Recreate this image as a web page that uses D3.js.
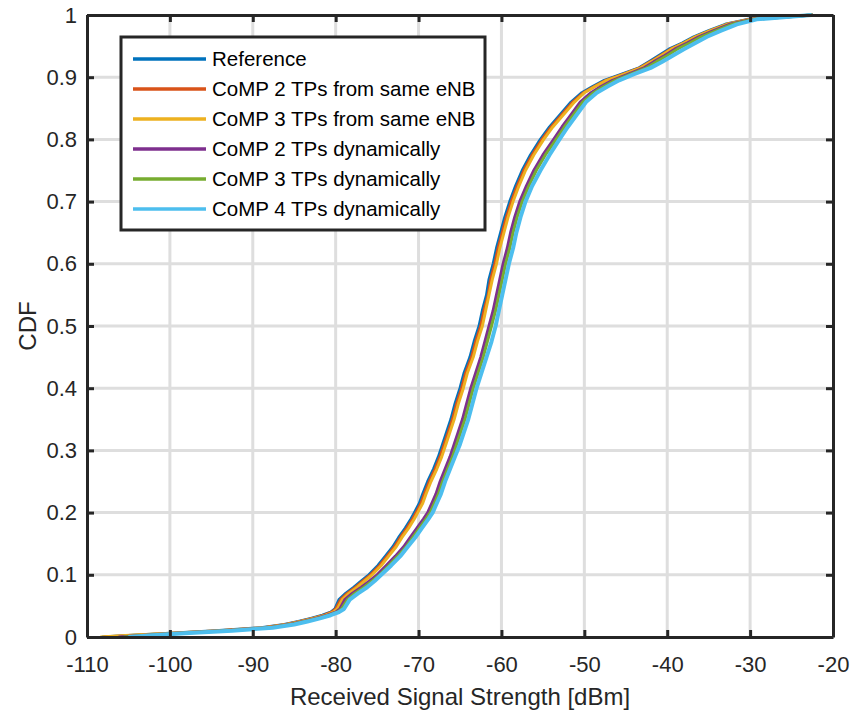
<!DOCTYPE html>
<html>
<head>
<meta charset="utf-8">
<script src="https://cdn.jsdelivr.net/npm/d3@7"></script>
<style>
  body { margin: 0; background: #fff; }
  svg { display: block; font-family: Arial, "Liberation Sans", sans-serif; }
  .axis .domain { stroke: #262626; stroke-width: 3; }
  .axis line { stroke: #262626; stroke-width: 3; }
  .axis text { fill: #262626; font-size: 22px; }
  .grid { stroke: #dedede; stroke-width: 3; }
  .curve { fill: none; stroke-linejoin: round; }
</style>
</head>
<body>
<svg id="chart" width="851" height="714"></svg>
<script>
// axis ticks
var xTicks = [-110, -100, -90, -80, -70, -60, -50, -40, -30, -20];
var yTicks = [0, 0.1, 0.2, 0.3, 0.4, 0.5, 0.6, 0.7, 0.8, 0.9, 1];
var yTickLabels = ['0', '0.1', '0.2', '0.3', '0.4', '0.5', '0.6', '0.7', '0.8', '0.9', '1'];

// CDF levels shared by every series
var levels = [0, 0.003, 0.006, 0.01, 0.015, 0.02, 0.025, 0.03, 0.035, 0.04, 0.045,
  0.06, 0.07, 0.08, 0.09, 0.1, 0.115, 0.13, 0.145, 0.16, 0.175, 0.19, 0.2,
  0.215, 0.23, 0.25, 0.27, 0.29, 0.31, 0.33, 0.35, 0.375, 0.4, 0.425, 0.45,
  0.475, 0.5, 0.525, 0.55, 0.575, 0.6, 0.625, 0.65, 0.675, 0.7, 0.725, 0.75,
  0.775, 0.8, 0.82, 0.84, 0.86, 0.875, 0.885, 0.895, 0.905, 0.915, 0.925,
  0.935, 0.945, 0.955, 0.965, 0.975, 0.985, 0.993, 1];

// received signal strength [dBm] at each level
var reference = [-108.2, -104.5, -100.0, -94.5, -89.0, -86.2, -84.5, -83.0, -81.6, -80.6, -80.1,
  -79.6, -78.8, -77.8, -76.9, -76.0, -74.9, -74.0, -73.1, -72.4, -71.6, -70.9, -70.5,
  -69.9, -69.5, -68.9, -68.2, -67.6, -67.1, -66.6, -66.1, -65.6, -65.0, -64.5, -63.8,
  -63.3, -62.7, -62.3, -61.8, -61.5, -61.0, -60.6, -60.1, -59.6, -59.0, -58.3, -57.5,
  -56.5, -55.3, -54.2, -52.9, -51.6, -50.3, -49.0, -47.6, -45.5, -43.4, -42.2,
  -41.0, -39.8, -38.2, -36.8, -35.0, -33.0, -30.3, -22.5];
var comp2Same = [-108.0, -104.0, -99.6, -94.0, -88.7, -86.0, -84.3, -82.8, -81.4, -80.5, -80.0,
  -79.4, -78.6, -77.6, -76.7, -75.8, -74.7, -73.8, -72.9, -72.2, -71.4, -70.7, -70.3,
  -69.7, -69.3, -68.7, -68.0, -67.4, -66.9, -66.4, -65.9, -65.4, -64.8, -64.3, -63.6,
  -63.1, -62.5, -62.1, -61.6, -61.3, -60.8, -60.4, -59.9, -59.4, -58.8, -58.1, -57.3,
  -56.3, -55.1, -54.0, -52.7, -51.4, -50.1, -48.8, -47.4, -45.3, -43.3, -42.0,
  -40.8, -39.6, -38.0, -36.6, -34.8, -32.8, -30.1, -22.6];
var comp3Same = [-108.4, -104.8, -99.8, -94.0, -88.6, -85.9, -84.2, -82.7, -81.2, -80.3, -79.8,
  -79.2, -78.4, -77.4, -76.5, -75.6, -74.5, -73.6, -72.7, -72.0, -71.2, -70.5, -70.1,
  -69.5, -69.1, -68.5, -67.8, -67.2, -66.7, -66.2, -65.7, -65.2, -64.6, -64.1, -63.4,
  -62.9, -62.3, -61.9, -61.5, -61.1, -60.6, -60.2, -59.7, -59.2, -58.6, -57.9, -57.1,
  -56.1, -54.9, -53.8, -52.5, -51.2, -50.0, -48.7, -47.3, -45.2, -43.2, -41.9,
  -40.7, -39.5, -38.0, -36.6, -34.8, -32.8, -30.1, -22.7];
var comp2Dyn = [-106.2, -103.0, -99.0, -93.5, -88.2, -85.6, -83.9, -82.4, -81.0, -80.0, -79.5,
  -78.9, -78.0, -76.9, -75.9, -75.0, -73.9, -72.8, -71.8, -71.0, -70.2, -69.4, -68.9,
  -68.4, -67.9, -67.4, -66.8, -66.2, -65.7, -65.2, -64.7, -64.2, -63.7, -63.1, -62.5,
  -62.0, -61.5, -61.0, -60.6, -60.2, -59.8, -59.3, -58.9, -58.4, -57.8, -57.0, -56.1,
  -55.0, -53.7, -52.7, -51.6, -50.5, -49.2, -48.0, -46.6, -44.7, -42.8, -41.6,
  -40.3, -39.1, -37.6, -36.2, -34.4, -32.5, -29.8, -22.4];
var comp3Dyn = [-105.6, -102.6, -98.7, -93.2, -88.0, -85.4, -83.7, -82.2, -80.8, -79.8, -79.3,
  -78.6, -77.7, -76.6, -75.6, -74.7, -73.6, -72.5, -71.5, -70.7, -69.9, -69.1, -68.6,
  -68.1, -67.6, -67.1, -66.5, -65.9, -65.4, -64.9, -64.4, -63.9, -63.4, -62.8, -62.2,
  -61.7, -61.2, -60.7, -60.3, -59.9, -59.5, -59.0, -58.6, -58.1, -57.5, -56.7, -55.8,
  -54.7, -53.4, -52.4, -51.3, -50.2, -48.9, -47.7, -46.3, -44.4, -42.5, -41.3,
  -40.0, -38.8, -37.3, -35.9, -34.1, -32.2, -29.6, -22.4];
var comp4Dyn = [-105.0, -102.0, -98.2, -92.5, -87.6, -85.0, -83.4, -81.9, -80.6, -79.6, -79.0,
  -78.3, -77.3, -76.2, -75.3, -74.5, -73.3, -72.2, -71.3, -70.4, -69.6, -68.8, -68.3,
  -67.8, -67.3, -66.8, -66.2, -65.6, -65.0, -64.5, -64.0, -63.5, -63.0, -62.4, -61.8,
  -61.2, -60.7, -60.3, -59.9, -59.5, -59.1, -58.6, -58.2, -57.7, -57.1, -56.3, -55.3,
  -54.2, -53.0, -52.0, -50.9, -49.8, -48.5, -47.2, -45.8, -44.0, -42.0, -40.6,
  -39.3, -38.0, -36.6, -35.2, -33.5, -31.6, -29.2, -22.6];

var seriesNames = ['Reference', 'CoMP 2 TPs from same eNB', 'CoMP 3 TPs from same eNB',
  'CoMP 2 TPs dynamically', 'CoMP 3 TPs dynamically', 'CoMP 4 TPs dynamically'];
var seriesValues = [reference, comp2Same, comp3Same, comp2Dyn, comp3Dyn, comp4Dyn];
var seriesColors = ['#0072BD', '#D95319', '#EDB120', '#7E2F8E', '#77AC30', '#4DBEEE'];

var plotLeft = 87, plotRight = 833, plotTop = 15, plotBottom = 637;

var svg = d3.select('#chart');
var x = d3.scaleLinear().domain([-110, -20]).range([plotLeft, plotRight]);
var y = d3.scaleLinear().domain([0, 1]).range([plotBottom, plotTop]);

// grid
svg.append('g').selectAll('line')
    .data(xTicks.slice(1, -1))
  .enter().append('line')
    .attr('class', 'grid')
    .attr('x1', x).attr('x2', x)
    .attr('y1', plotTop).attr('y2', plotBottom);
svg.append('g').selectAll('line')
    .data(yTicks.slice(1, -1))
  .enter().append('line')
    .attr('class', 'grid')
    .attr('x1', plotLeft).attr('x2', plotRight)
    .attr('y1', y).attr('y2', y);

// curves
var line = d3.line()
    .x(function(d) { return x(d[0]); })
    .y(function(d) { return y(d[1]); });

svg.append('g').selectAll('path')
    .data(seriesValues)
  .enter().append('path')
    .attr('class', 'curve')
    .attr('stroke', function(d, i) { return seriesColors[i]; })
    .attr('stroke-width', function(d, i) { return i == 5 ? 4 : 3; })
    .attr('d', function(vals) {
        return line(vals.map(function(v, i) { return [v, levels[i]]; }));
    });

// axes (box with inward ticks)
svg.append('g').attr('class', 'axis')
    .attr('transform', 'translate(0,' + plotBottom + ')')
    .call(d3.axisBottom(x).tickValues(xTicks).tickSizeInner(-7).tickSizeOuter(0).tickPadding(19)
        .tickFormat(function(d) { return String(d); }));
svg.append('g').attr('class', 'axis')
    .attr('transform', 'translate(0,' + plotTop + ')')
    .call(d3.axisTop(x).tickValues(xTicks).tickSizeInner(-7).tickSizeOuter(0).tickFormat(''));
svg.append('g').attr('class', 'axis')
    .attr('transform', 'translate(' + plotLeft + ',0)')
    .call(d3.axisLeft(y).tickValues(yTicks).tickSizeInner(-7).tickSizeOuter(0).tickPadding(10)
        .tickFormat(function(d, i) { return yTickLabels[i]; }));
svg.append('g').attr('class', 'axis')
    .attr('transform', 'translate(' + plotRight + ',0)')
    .call(d3.axisRight(y).tickValues(yTicks).tickSizeInner(-7).tickSizeOuter(0).tickFormat(''));

svg.selectAll('.axis').attr('font-family', null);

// axis titles
svg.append('text')
    .attr('x', (plotLeft + plotRight) / 2)
    .attr('y', 705)
    .attr('text-anchor', 'middle')
    .attr('fill', '#262626')
    .style('font-size', '24px')
    .text('Received Signal Strength [dBm]');
svg.append('text')
    .attr('transform', 'translate(36,' + (plotTop + plotBottom) / 2 + ') rotate(-90)')
    .attr('text-anchor', 'middle')
    .attr('fill', '#262626')
    .style('font-size', '24px')
    .text('CDF');

// legend
var legend = svg.append('g');
legend.append('rect')
    .attr('x', 121).attr('y', 37)
    .attr('width', 364).attr('height', 193)
    .attr('fill', '#fff')
    .attr('stroke', '#262626')
    .attr('stroke-width', 3);
var rows = legend.selectAll('g')
    .data(seriesNames)
  .enter().append('g')
    .attr('transform', function(d, i) { return 'translate(0,' + (59 + i * 30) + ')'; });
rows.append('line')
    .attr('x1', 133).attr('x2', 206)
    .attr('y1', 0).attr('y2', 0)
    .attr('stroke', function(d, i) { return seriesColors[i]; })
    .attr('stroke-width', 3.5);
rows.append('text')
    .attr('x', 212)
    .attr('y', 7)
    .attr('fill', '#000')
    .style('font-size', '20.5px')
    .text(function(d) { return d; });
</script>
</body>
</html>
